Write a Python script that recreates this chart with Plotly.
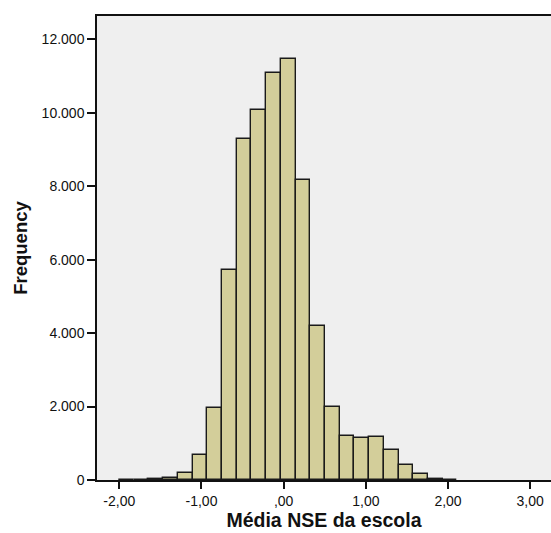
import plotly.graph_objects as go

# Histogram data (SPSS-style): bin start, bin width and counts
bin_start = -2.003
bin_size = 0.179
counts = [10, 0, 20, 45, 190, 690, 1960, 5710, 9290, 10070, 11090, 11480,
          8170, 4190, 1990, 1210, 1150, 1180, 810, 410, 165, 35, 12]

x_tickvals = [-2, -1, 0, 1, 2, 3]
x_ticktext = ["-2,00", "-1,00", ",00", "1,00", "2,00", "3,00"]
y_tickvals = [0, 2000, 4000, 6000, 8000, 10000, 12000]
y_ticktext = ["0", "2.000", "4.000", "6.000", "8.000", "10.000", "12.000"]

centers = [bin_start + (i + 0.5) * bin_size for i in range(len(counts))]

fig = go.Figure(go.Bar(
    x=centers, y=counts, width=bin_size,
    marker=dict(color="#D3CE9A", line=dict(color="#1a1a1a", width=1.4)),
    hoverinfo="x+y",
))

fig.update_layout(
    width=551, height=533,
    margin=dict(l=97, r=0, t=16, b=53),
    paper_bgcolor="white", plot_bgcolor="#EFEFEF",
    font=dict(family="Liberation Sans, Arial, sans-serif", color="#111111", size=14),
    showlegend=False,
    bargap=0,
)
fig.update_xaxes(
    range=[-2.271, 3.253], tickvals=x_tickvals, ticktext=x_ticktext,
    ticks="outside", ticklen=7, tickwidth=1.5, tickcolor="#111111",
    showline=True, linecolor="#111111", linewidth=1.5, mirror=True,
    showgrid=False, zeroline=False,
    title=dict(text="<b>Média NSE da escola</b>", font=dict(size=19.5), standoff=6),
)
fig.update_yaxes(
    range=[0, 12640], tickvals=y_tickvals, ticktext=y_ticktext,
    ticks="outside", ticklen=8, tickwidth=1.5, tickcolor="#111111",
    showline=True, linecolor="#111111", linewidth=1.5,
    showgrid=False, zeroline=False,
    title=dict(text="<b>Frequency</b>", font=dict(size=18.5), standoff=9),
)

fig.write_html("out.html")
